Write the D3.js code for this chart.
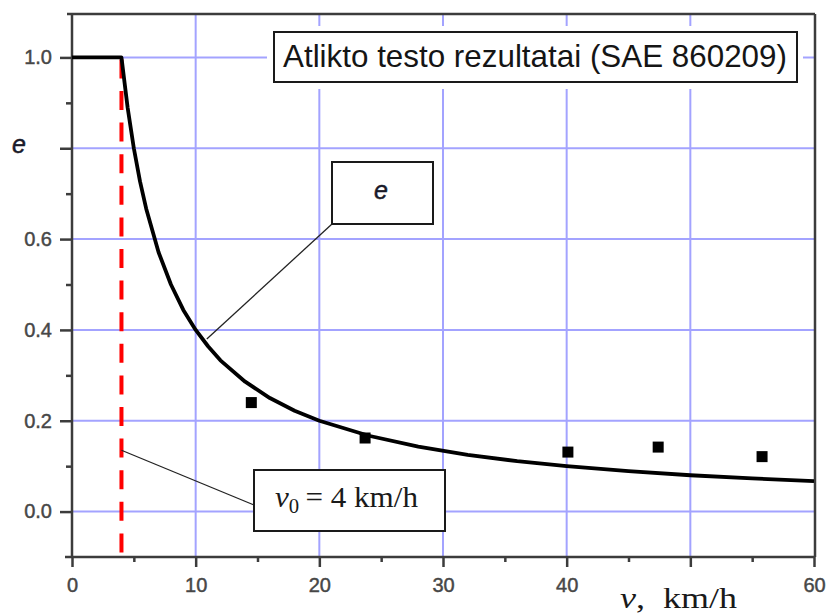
<!DOCTYPE html>
<html>
<head>
<meta charset="utf-8">
<script src="https://cdn.jsdelivr.net/npm/d3@7"></script>
<style>
  html, body { margin: 0; padding: 0; background: #fff; }
  svg { display: block; }
</style>
</head>
<body>
<svg id="chart" width="827" height="614"></svg>
<script>
// Fitted restitution curve e(v): flat at 1.0 up to v0, then falling
const curveSpeed = [0, 4, 4.5, 5, 5.5, 6, 7, 8, 9, 10, 11, 12, 14, 16, 18, 20, 24, 28, 32, 36, 40, 45, 50, 55, 60];
const curveE     = [1.0, 1.0, 0.889, 0.80, 0.727, 0.667, 0.571, 0.50, 0.444, 0.40, 0.364, 0.333, 0.286,
                    0.25, 0.222, 0.20, 0.167, 0.143, 0.125, 0.111, 0.10, 0.089, 0.08, 0.073, 0.067];

// Test results (SAE 860209)
const testSpeed = [14.5, 23.7, 40.1, 47.4, 55.8];
const testE     = [0.24, 0.162, 0.131, 0.142, 0.121];

// Threshold speed
const v0 = 4;

// Axis ticks and labels
const xTicks      = [0, 10, 20, 30, 40, 50, 60];
const xTickLabels = ["0", "10", "20", "30", "40", "", "60"];
const xMinorTicks = [5, 15, 25, 35, 45, 55];
const yTicks      = [0.0, 0.2, 0.4, 0.6, 0.8, 1.0];
const yTickLabels = ["0.0", "0.2", "0.4", "0.6", "", "1.0"];
const yMinorTicks = [0.1, 0.3, 0.5, 0.7, 0.9];
const xGrid = [10, 20, 30, 40, 50];
const yGrid = [0.0, 0.2, 0.4, 0.6, 0.8, 1.0];

const svg = d3.select("#chart");
const plotL = 72, plotR = 815, plotT = 14, plotB = 557;

const x = d3.scaleLinear().domain([0, 60]).range([plotL, 814]);
const y = d3.scaleLinear().domain([-0.1, 1.1]).range([plotB, 12]);

const gridColor = "#a3a3ff";
const frameColor = "#3c3c3c";
const sans = "'Liberation Sans', Arial, sans-serif";
const serif = "'Liberation Serif', 'Times New Roman', serif";

// Stretch a text element horizontally so it spans [x0, x0 + width]
function fitWidth(sel, x0, width) {
  const bb = sel.node().getBBox();
  const k = width / bb.width;
  sel.attr("transform", `translate(${x0},0) scale(${k},1) translate(${-bb.x},0)`);
}

// Grid
const grid = svg.append("g");
grid.selectAll(".gx").data(xGrid).join("line")
  .attr("x1", d => x(d)).attr("x2", d => x(d))
  .attr("y1", plotT).attr("y2", plotB)
  .attr("stroke", gridColor).attr("stroke-width", 2);
grid.selectAll(".gy").data(yGrid).join("line")
  .attr("x1", plotL).attr("x2", plotR)
  .attr("y1", d => y(d)).attr("y2", d => y(d))
  .attr("stroke", gridColor).attr("stroke-width", 2);

// Axes
const xAxis = d3.axisBottom(x).tickValues(xTicks).tickSize(10).tickPadding(11)
  .tickFormat((d, i) => xTickLabels[i]);
const xAxisMinor = d3.axisBottom(x).tickValues(xMinorTicks).tickSize(5).tickFormat("");
const yAxis = d3.axisLeft(y).tickValues(yTicks).tickSize(12).tickPadding(8)
  .tickFormat((d, i) => yTickLabels[i]);
const yAxisMinor = d3.axisLeft(y).tickValues(yMinorTicks).tickSize(6).tickFormat("");

function styleAxis(g) {
  g.select(".domain").remove();
  g.selectAll(".tick line").attr("stroke", frameColor).attr("stroke-width", 2.5);
  g.selectAll(".tick text").attr("fill", "#474747")
    .attr("stroke", "#474747").attr("stroke-width", 0.45)
    .style("font-family", sans).style("font-size", "20px");
}
svg.append("g").attr("transform", `translate(0,${plotB})`).call(xAxis).call(styleAxis);
svg.append("g").attr("transform", `translate(0,${plotB})`).call(xAxisMinor).call(styleAxis);
svg.append("g").attr("transform", `translate(${plotL},0)`).call(yAxis).call(styleAxis);
svg.append("g").attr("transform", `translate(${plotL},0)`).call(yAxisMinor).call(styleAxis);

// Frame
const frame = svg.append("g").attr("stroke", frameColor).attr("stroke-width", 2.5).attr("fill", "none");
frame.append("line").attr("x1", plotL).attr("x2", plotL).attr("y1", plotT).attr("y2", plotB);
frame.append("line").attr("x1", 65).attr("x2", plotR).attr("y1", plotB).attr("y2", plotB);
frame.append("line").attr("x1", 67).attr("x2", plotR).attr("y1", plotT).attr("y2", plotT);
frame.append("line").attr("x1", plotR).attr("x2", plotR).attr("y1", plotT).attr("y2", plotB);

// Red dashed threshold line at v0
svg.append("line")
  .attr("x1", x(v0)).attr("x2", x(v0))
  .attr("y1", y(1.0) + 2).attr("y2", plotB)
  .attr("stroke", "#ff0000").attr("stroke-width", 4)
  .attr("stroke-dasharray", "19,12.6");

// Test points
const sq = 11;
svg.append("g").selectAll("rect").data(testSpeed).join("rect")
  .attr("x", d => x(d) - sq / 2)
  .attr("y", (d, i) => y(testE[i]) - sq / 2)
  .attr("width", sq).attr("height", sq)
  .attr("fill", "#000");

// Curve
const line = d3.line().x(d => x(d[0])).y(d => y(d[1]));
svg.append("path")
  .datum(curveSpeed.map((v, i) => [v, curveE[i]]))
  .attr("d", line)
  .attr("fill", "none").attr("stroke", "#000").attr("stroke-width", 3.8)
  .attr("stroke-linejoin", "round");

// Title box
svg.append("rect").attr("x", 267).attr("y", 26).attr("width", 536).attr("height", 63).attr("fill", "#fff");
svg.append("rect").attr("x", 274).attr("y", 32).attr("width", 523).attr("height", 50)
  .attr("fill", "#fff").attr("stroke", "#1a1a1a").attr("stroke-width", 2);
const title = svg.append("text").attr("x", 0).attr("y", 67)
  .style("font-family", sans).style("font-size", "30.5px").attr("fill", "#151515")
  .text("Atlikto testo rezultatai (SAE 860209)");
fitWidth(title, 283, 504);

// "e" label box with leader to curve
svg.append("line").attr("x1", 332).attr("y1", 224).attr("x2", x(10.9)).attr("y2", y(0.38))
  .attr("stroke", "#222").attr("stroke-width", 1.3);
svg.append("rect").attr("x", 332).attr("y", 162).attr("width", 101).attr("height", 62)
  .attr("fill", "#fff").attr("stroke", "#1a1a1a").attr("stroke-width", 2);
svg.append("text").attr("x", 381).attr("y", 199).attr("text-anchor", "middle")
  .style("font-family", sans).style("font-style", "italic").style("font-size", "25px")
  .attr("fill", "#1a1a2a").attr("stroke", "#1a1a2a").attr("stroke-width", 0.5).text("e");

// v0 label box with leader to the threshold line
svg.append("line").attr("x1", 254).attr("y1", 505).attr("x2", x(v0)).attr("y2", y(0.135))
  .attr("stroke", "#222").attr("stroke-width", 1.3);
svg.append("rect").attr("x", 254).attr("y", 470).attr("width", 191).attr("height", 61)
  .attr("fill", "#fff").attr("stroke", "#1a1a1a").attr("stroke-width", 2);
const v0Text = svg.append("text").attr("x", 0).attr("y", 507)
  .style("font-family", serif).style("font-size", "30px").attr("fill", "#1a1a1a");
v0Text.append("tspan").style("font-style", "italic").text("v");
v0Text.append("tspan").style("font-size", "20px").attr("dy", 6).text("0");
v0Text.append("tspan").attr("dy", -6).text("\u2009= 4 km/h");
fitWidth(v0Text, 275, 143);

// Axis titles
svg.append("text").attr("x", 12).attr("y", 153)
  .style("font-family", sans).style("font-style", "italic").style("font-size", "25px")
  .attr("fill", "#1a1a2a").attr("stroke", "#1a1a2a").attr("stroke-width", 0.5).text("e");
const xTitle = svg.append("text").attr("x", 0).attr("y", 608)
  .style("font-family", serif).style("font-size", "30px").attr("fill", "#1a1a1a");
xTitle.append("tspan").style("font-style", "italic").text("v");
xTitle.append("tspan").text(",\u00a0 km/h");
fitWidth(xTitle, 620, 117);
</script>
</body>
</html>
